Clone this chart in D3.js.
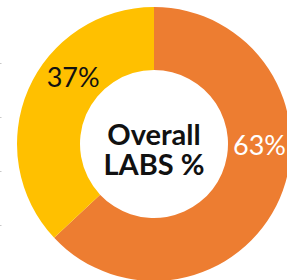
<!DOCTYPE html>
<html>
<head>
<meta charset="utf-8">
<script src="https://cdn.jsdelivr.net/npm/d3@7"></script>
<style>
  html, body { margin: 0; padding: 0; background: #fff; }
  svg { display: block; }
</style>
</head>
<body>
<div id="chart"></div>
<script>
// chart data
var categories = ["LABS", "Other"];
var values = [63, 37];
var labels = ["63%", "37%"];
var colors = ["#ED7D31", "#FFC000"];
var labelColors = ["#ffffff", "#111111"];
var labelAngles = [90, 310]; // degrees, clockwise from top (where the labels sit)
var centerLines = ["Overall", "LABS %"];

var width = 287, height = 280;
var cx = 154, cy = 144, outerR = 137, innerR = 74;

var svg = d3.select("#chart")
  .append("svg")
  .attr("width", width)
  .attr("height", height);

// faint specks on the left edge
svg.selectAll(".speck")
  .data([63, 117, 171, 225]).enter().append("rect")
    .attr("class", "speck")
    .attr("x", 0)
    .attr("y", function(d) { return d; })
    .attr("width", 1.5)
    .attr("height", 1)
    .attr("fill", "#c8c8c8");

var g = svg.append("g")
  .attr("transform", "translate(" + cx + "," + cy + ")");

var pie = d3.pie().sort(null).value(function(d) { return d; });
var arc = d3.arc().innerRadius(innerR).outerRadius(outerR);

var arcs = pie(values);

g.selectAll("path")
  .data(arcs).enter().append("path")
    .attr("d", arc)
    .attr("fill", function(d, i) { return colors[i]; });

var labelR = (innerR + outerR) / 2;
g.selectAll(".pct")
  .data(arcs).enter().append("text")
    .attr("class", "pct")
    .attr("text-anchor", "middle")
    .attr("dominant-baseline", "central")
    .attr("x", function(d, i) { return Math.sin(labelAngles[i] * Math.PI / 180) * labelR; })
    .attr("y", function(d, i) { return -Math.cos(labelAngles[i] * Math.PI / 180) * labelR; })
    .attr("fill", function(d, i) { return labelColors[i]; })
    .style("font-family", "Lato, 'Open Sans', sans-serif")
    .style("font-weight", 400)
    .style("font-size", "27px")
    .text(function(d, i) { return labels[i]; });

g.selectAll(".center")
  .data(centerLines).enter().append("text")
    .attr("class", "center")
    .attr("text-anchor", "middle")
    .attr("x", 0)
    .attr("y", function(d, i) { return 1 + i * 30; })
    .attr("fill", "#111")
    .style("font-family", "Lato, 'Open Sans', sans-serif")
    .style("font-weight", 700)
    .style("font-size", "29px")
    .text(function(d) { return d; });
</script>
</body>
</html>
